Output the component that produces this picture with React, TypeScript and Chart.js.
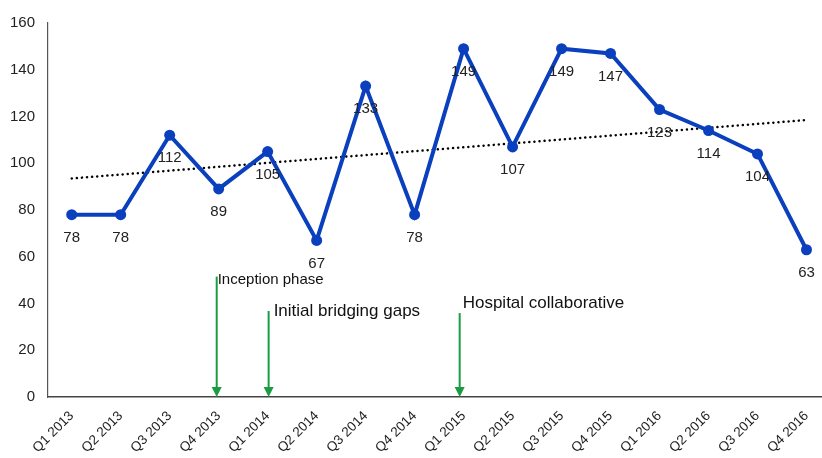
import React, { useEffect, useRef } from "react";
import { Chart, registerables } from "chart.js";

Chart.register(...registerables);

const quarters = [
  "Q1 2013", "Q2 2013", "Q3 2013", "Q4 2013",
  "Q1 2014", "Q2 2014", "Q3 2014", "Q4 2014",
  "Q1 2015", "Q2 2015", "Q3 2015", "Q4 2015",
  "Q1 2016", "Q2 2016", "Q3 2016", "Q4 2016",
];
const values = [78, 78, 112, 89, 105, 67, 133, 78, 149, 107, 149, 147, 123, 114, 104, 63];
const trendX = [0, 15];
const trendY = [93.5, 118.5];
const yTicks = [0, 20, 40, 60, 80, 100, 120, 140, 160];

const annotationLabels = ["Inception phase", "Initial bridging gaps", "Hospital collaborative"];
const annotationX = [2.96, 4.02, 7.92];
const annotationTop = [51.5, 36.8, 35.9];
const annotationFontSize = [15, 17, 17];
const annotationTextDx = [1, 5, 3];
const annotationTextY = [50, 36.5, 40];

const BLUE = "#0a3fbe";
const GREEN = "#1c9c42";

const dataLabelPlugin = {
  id: "dataLabels",
  afterDatasetsDraw(chart: any) {
    const ctx = chart.ctx;
    const meta = chart.getDatasetMeta(0);
    ctx.save();
    ctx.font = "15px 'Liberation Sans', Arial, sans-serif";
    ctx.fillStyle = "#222";
    ctx.textAlign = "center";
    ctx.textBaseline = "middle";
    meta.data.forEach((pt: any, i: number) => {
      ctx.fillText(String(values[i]), pt.x, pt.y + 23);
    });
    ctx.restore();
  },
};

const arrowPlugin = {
  id: "arrows",
  afterDatasetsDraw(chart: any) {
    const ctx = chart.ctx;
    const xs = chart.scales.x;
    const ys = chart.scales.y;
    ctx.save();
    annotationLabels.forEach((label, i) => {
      const x = xs.getPixelForValue(annotationX[i]);
      const top = ys.getPixelForValue(annotationTop[i]);
      const bottom = ys.getPixelForValue(0);
      ctx.strokeStyle = GREEN;
      ctx.fillStyle = GREEN;
      ctx.lineWidth = 2;
      ctx.beginPath();
      ctx.moveTo(x, top);
      ctx.lineTo(x, bottom - 9);
      ctx.stroke();
      ctx.beginPath();
      ctx.moveTo(x - 5, bottom - 10);
      ctx.lineTo(x + 5, bottom - 10);
      ctx.lineTo(x, bottom);
      ctx.closePath();
      ctx.fill();
      ctx.fillStyle = "#111";
      ctx.font = `${annotationFontSize[i]}px 'Liberation Sans', Arial, sans-serif`;
      ctx.textAlign = "left";
      ctx.textBaseline = "middle";
      ctx.fillText(label, x + annotationTextDx[i], ys.getPixelForValue(annotationTextY[i]));
    });
    ctx.restore();
  },
};

export default function App() {
  const canvasRef = useRef<HTMLCanvasElement>(null);

  useEffect(() => {
    if (!canvasRef.current) return;
    const chart = new Chart(canvasRef.current, {
      type: "line",
      data: {
        datasets: [
          {
            data: values.map((v, i) => ({ x: i, y: v })),
            borderColor: BLUE,
            backgroundColor: BLUE,
            borderWidth: 4,
            pointRadius: 5.5,
            pointBackgroundColor: BLUE,
            pointBorderColor: BLUE,
            pointBorderWidth: 0,
            tension: 0,
          },
          {
            data: trendX.map((x, i) => ({ x, y: trendY[i] })),
            borderColor: "#000",
            borderWidth: 2.5,
            borderDash: [0.1, 5],
            borderCapStyle: "round",
            pointRadius: 0,
            tension: 0,
          },
        ],
      },
      options: {
        responsive: false,
        animation: false,
        events: [],
        layout: { padding: { top: 23, right: 0, left: 0, bottom: 0 } },
        plugins: {
          legend: { display: false },
          tooltip: { enabled: false },
        },
        scales: {
          x: {
            type: "linear",
            min: -0.484,
            max: 15.327,
            grid: { display: false, drawTicks: false },
            border: { display: true, color: "#444", width: 1.5 },
            afterBuildTicks: (scale: any) => {
              scale.ticks = quarters.map((_, i) => ({ value: i }));
            },
            afterFit: (scale: any) => {
              scale.height = 61;
              scale.paddingRight = 0;
              scale.paddingLeft = 0;
            },
            ticks: {
              autoSkip: false,
              minRotation: 45,
              maxRotation: 45,
              padding: 11,
              color: "#222",
              font: { family: "'Liberation Sans', Arial, sans-serif", size: 13.5 },
              callback: (v: any) => quarters[Math.round(Number(v))] ?? "",
            },
          },
          y: {
            type: "linear",
            min: 0,
            max: 160,
            grid: { display: false, drawTicks: false },
            border: { display: true, color: "#555", width: 1.2 },
            afterBuildTicks: (scale: any) => {
              scale.ticks = yTicks.map((v) => ({ value: v }));
            },
            afterFit: (scale: any) => {
              scale.width = 48;
            },
            ticks: {
              padding: 13,
              color: "#222",
              font: { family: "'Liberation Sans', Arial, sans-serif", size: 15 },
            },
          },
        },
      },
      plugins: [dataLabelPlugin, arrowPlugin],
    } as any);
    return () => chart.destroy();
  }, []);

  return (
    <div style={{ position: "absolute", left: 0, top: 0, width: 822, height: 458, background: "#fff", overflow: "hidden" }}>
      <canvas ref={canvasRef} width={828} height={458} style={{ display: "block" }} />
    </div>
  );
}
